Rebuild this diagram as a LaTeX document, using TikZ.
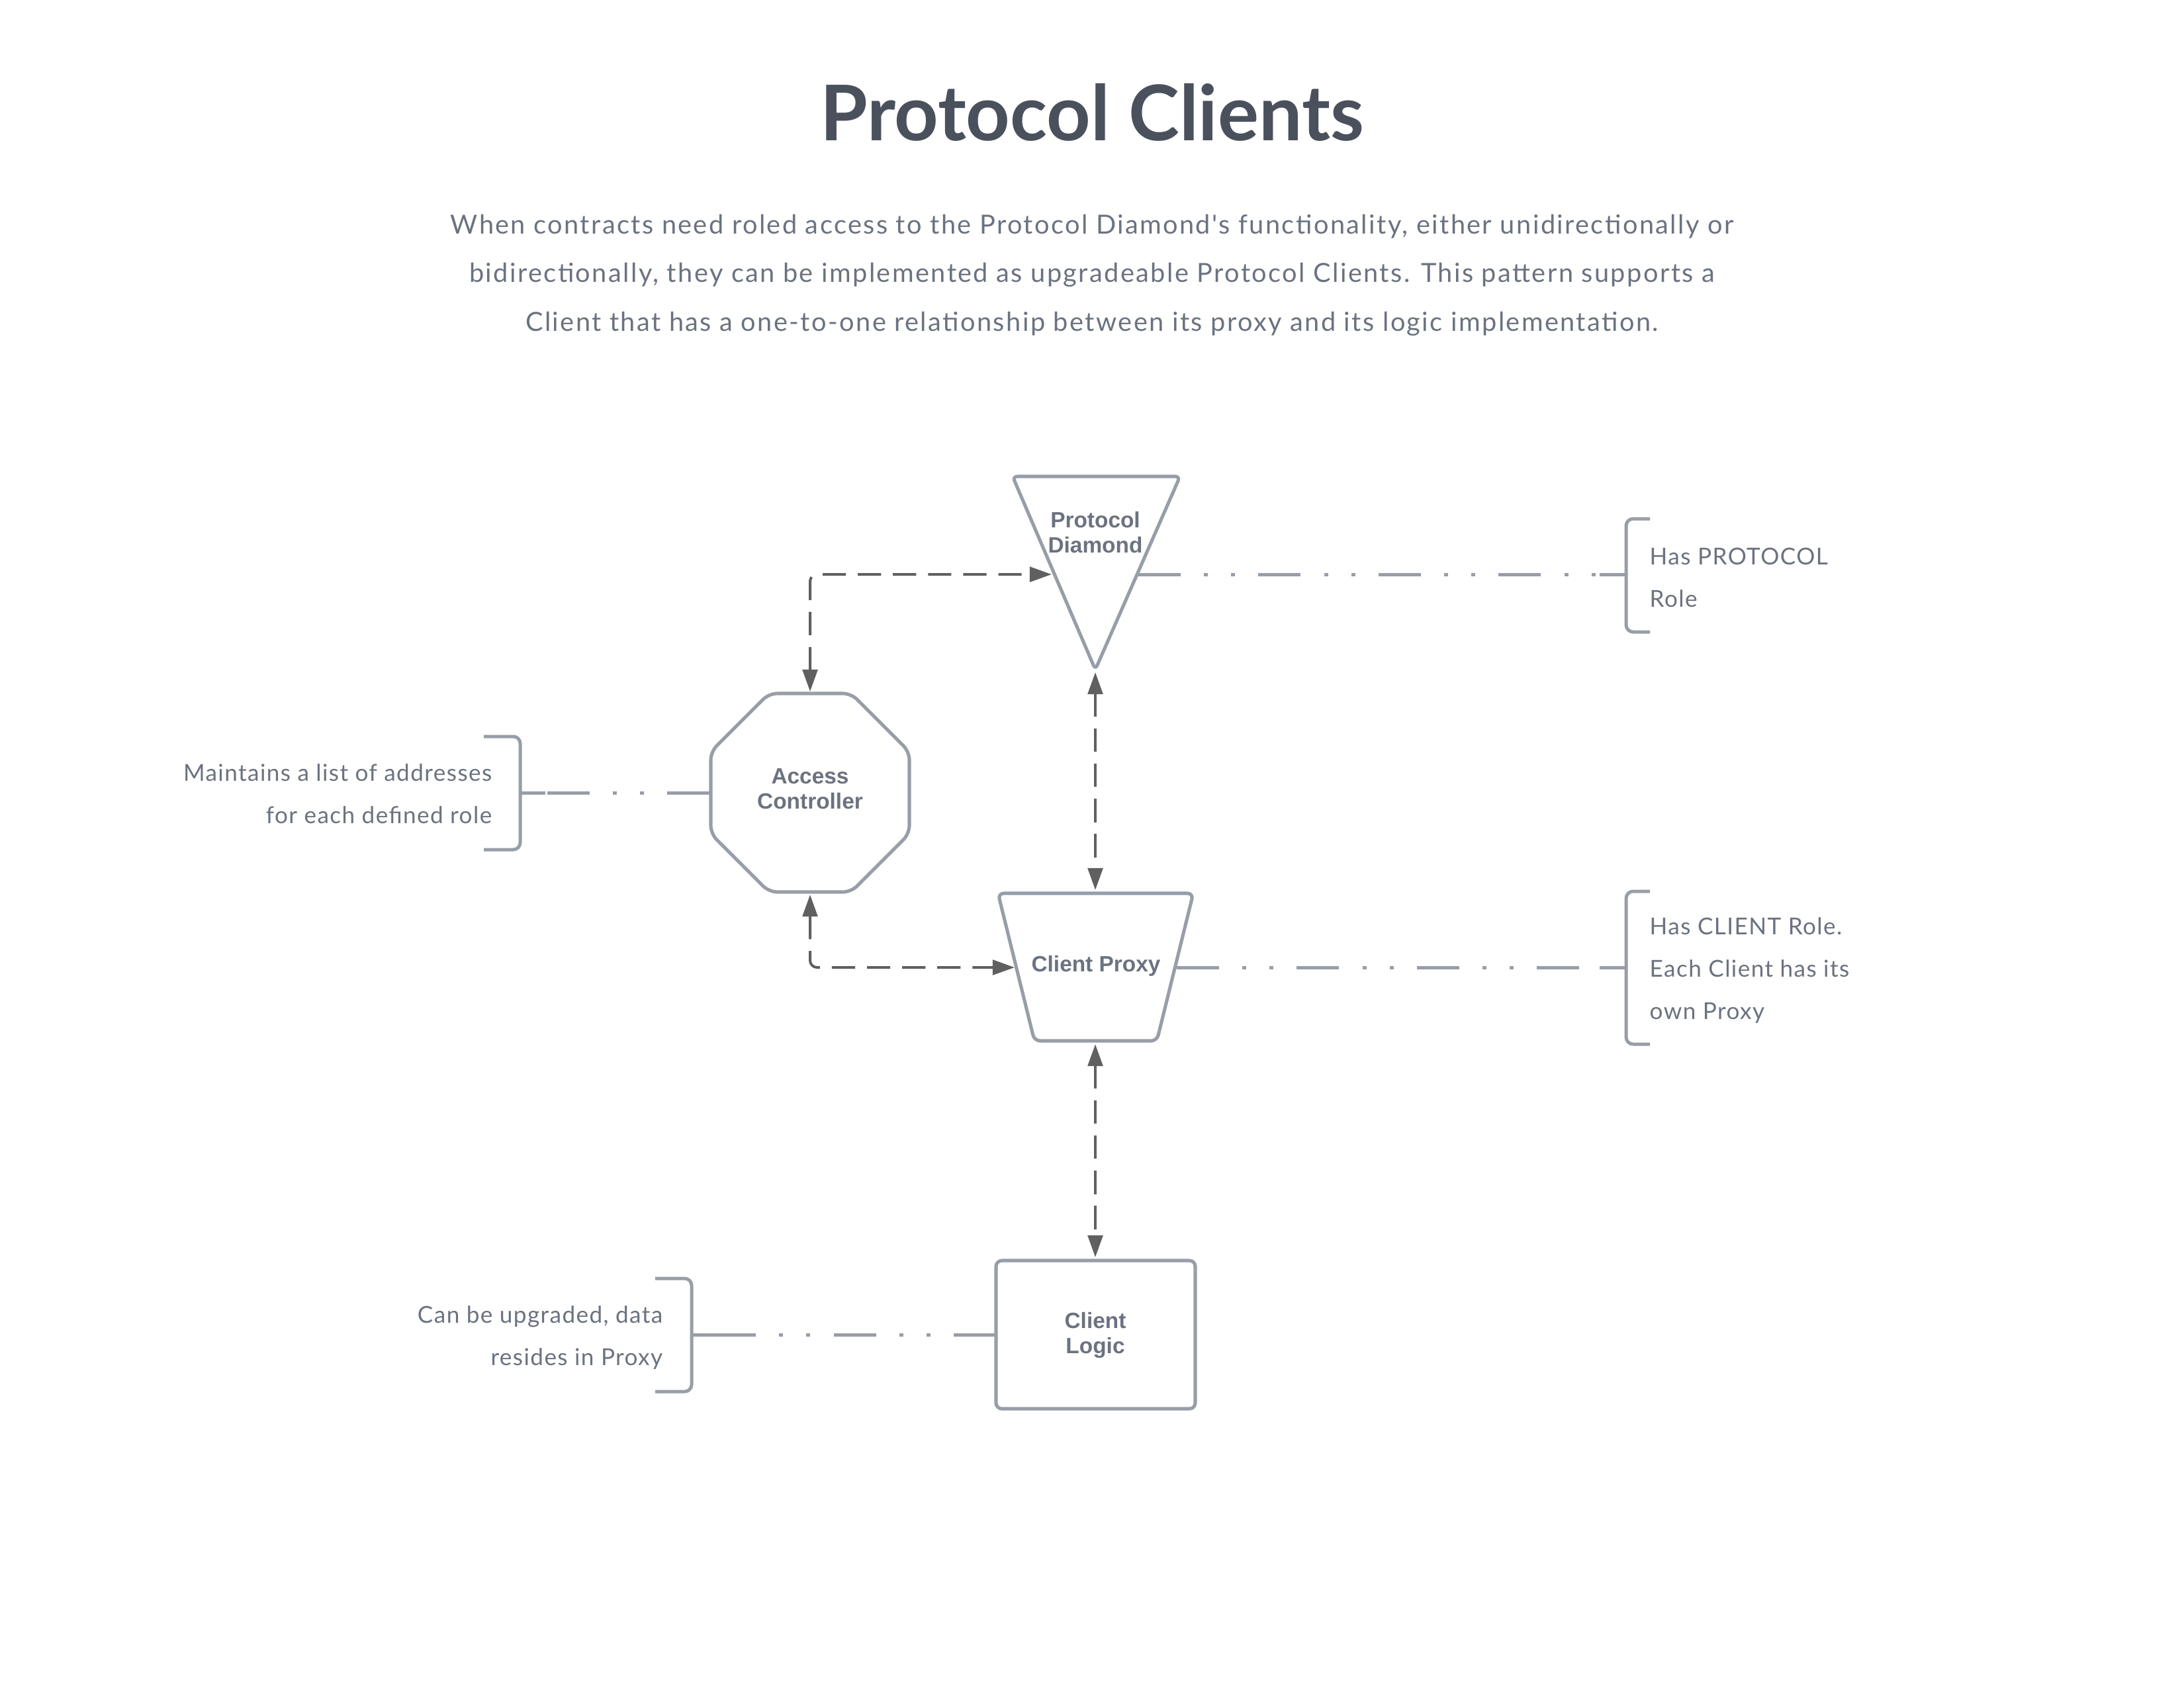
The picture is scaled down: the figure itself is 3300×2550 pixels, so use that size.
\documentclass[tikz,border=0pt]{standalone}
\usepackage{fontspec}
\setmainfont{Lato}
\newfontfamily\labfont{Liberation Sans}
\newfontfamily\descfont{Lato}[LetterSpace=6]
\newfontfamily\notefont{Lato}[LetterSpace=4]
\usetikzlibrary{arrows.meta}
\definecolor{titlec}{RGB}{74,81,93}
\definecolor{textc}{RGB}{107,114,128}
\definecolor{shapec}{RGB}{152,158,168}
\definecolor{connc}{RGB}{96,96,96}
\definecolor{labc}{RGB}{107,114,128}
\begin{document}
\begin{tikzpicture}[x=0.01cm,y=-0.01cm,
 shp/.style={draw=shapec, line width=1.45pt, fill=white, line join=round},
 lbl/.style={font=\labfont\bfseries\fontsize{9.5}{10.8}\selectfont, text=labc, align=center, inner sep=0pt},
 conn/.style={draw=connc, line width=1.14pt, dash pattern=on 10pt off 5.1pt,
   {Triangle[length=9.4pt,width=6.4pt]}-{Triangle[length=9.4pt,width=6.4pt]}, rounded corners=3pt},
 ddot/.style={draw=shapec, line width=1.42pt, dash pattern=on 18.2pt off 10pt on 1.7pt off 10pt on 1.7pt off 10pt},
 brk/.style={draw=shapec, line width=1.42pt, rounded corners=3pt},
 note/.style={font=\notefont\fontsize{10}{18.07}\selectfont, text=textc, inner sep=0pt},
]
\fill[white] (0,0) rectangle (3300,2550);
\useasboundingbox (0,0) rectangle (3300,2550);

% title and description (anchor base = baseline of the last line)
\node[font=\bfseries\fontsize{33}{40}\selectfont, text=titlec, anchor=base, inner sep=0pt] (title) at (1650,212) {Protocol Clients};
\node[font=\descfont\fontsize{11.3}{20.9}\selectfont, text=textc, align=center, anchor=base, inner sep=0pt] (desc) at (1650,500)
 {When contracts need roled access to the Protocol Diamond's functionality, either unidirectionally or\\
  bidirectionally, they can be implemented as upgradeable Protocol Clients. This pattern supports a\\
  Client that has a one-to-one relationship between its proxy and its logic implementation.};

% shapes
\draw[shp, rounded corners=2pt] (1530,720) -- (1783,720) -- (1655,1012) -- cycle;
\node[lbl, anchor=base] (pd) at (1655,835) {Protocol\\Diamond};
\coordinate (pd-l) at (1589,868);
\coordinate (pd-r) at (1720,868);
\coordinate (pd-b) at (1655,1016);

\draw[shp, rounded corners=3.5pt] (1162,1048) -- (1286,1048) -- (1374,1136) -- (1374,1260) -- (1286,1348) -- (1162,1348) -- (1074,1260) -- (1074,1136) -- cycle;
\node[lbl, anchor=base] (ac) at (1224,1222) {Access\\Controller};
\coordinate (ac-t) at (1224,1045);
\coordinate (ac-b) at (1224,1352);
\coordinate (ac-l) at (1072,1198);

\draw[shp, rounded corners=2.5pt] (1508,1350) -- (1803,1350) -- (1748,1573) -- (1563,1573) -- cycle;
\node[lbl, anchor=base] (cp) at (1656,1468) {Client Proxy};
\coordinate (cp-t) at (1655,1345);
\coordinate (cp-b) at (1655,1578);
\coordinate (cp-l) at (1533,1462);
\coordinate (cp-r) at (1778,1462);

\draw[shp, rounded corners=2.5pt] (1505,1905) rectangle (1806,2129);
\node[lbl, anchor=base] (cl) at (1655,2045) {Client\\Logic};
\coordinate (cl-t) at (1655,1900);
\coordinate (cl-l) at (1505,2017);

% brackets
\draw[brk] (2493,784) -- (2457,784) -- (2457,955) -- (2493,955);
\draw[brk] (2417,868) -- (2457,868);
\coordinate (r1) at (2417,868);
\node[note, anchor=base west, align=left] (r1t) at (2492,917) {Has PROTOCOL\\Role};

\draw[brk] (2493,1347) -- (2457,1347) -- (2457,1578) -- (2493,1578);
\draw[brk] (2417,1462) -- (2457,1462);
\coordinate (r2) at (2417,1462);
\node[note, anchor=base west, align=left] (r2t) at (2492,1540) {Has CLIENT Role.\\Each Client has its\\own Proxy};

\draw[brk] (731,1113) -- (786,1113) -- (786,1284) -- (731,1284);
\draw[brk] (786,1198) -- (824,1198);
\coordinate (l1) at (824,1198);
\node[note, anchor=base east, align=right] (l1t) at (744,1244) {Maintains a list of addresses\\for each defined role};

\draw[brk] (990,1932) -- (1045,1932) -- (1045,2103) -- (990,2103);
\draw[brk] (1045,2017) -- (1083,2017);
\coordinate (l2) at (1083,2017);
\node[note, anchor=base east, align=right] (l2t) at (1002,2063) {Can be upgraded, data\\resides in Proxy};

% dashed connectors
\draw[conn] (ac-t) |- (pd-l);
\draw[conn] (pd-b) -- (cp-t);
\draw[conn] (ac-b) |- (cp-l);
\draw[conn] (cp-b) -- (cl-t);

% dash-dot annotation lines
\draw[ddot] (pd-r) -- (r1);
\draw[ddot] (cp-r) -- (r2);
\draw[ddot] (ac-l) -- (l1);
\draw[ddot] (cl-l) -- (l2);
\end{tikzpicture}
\end{document}
